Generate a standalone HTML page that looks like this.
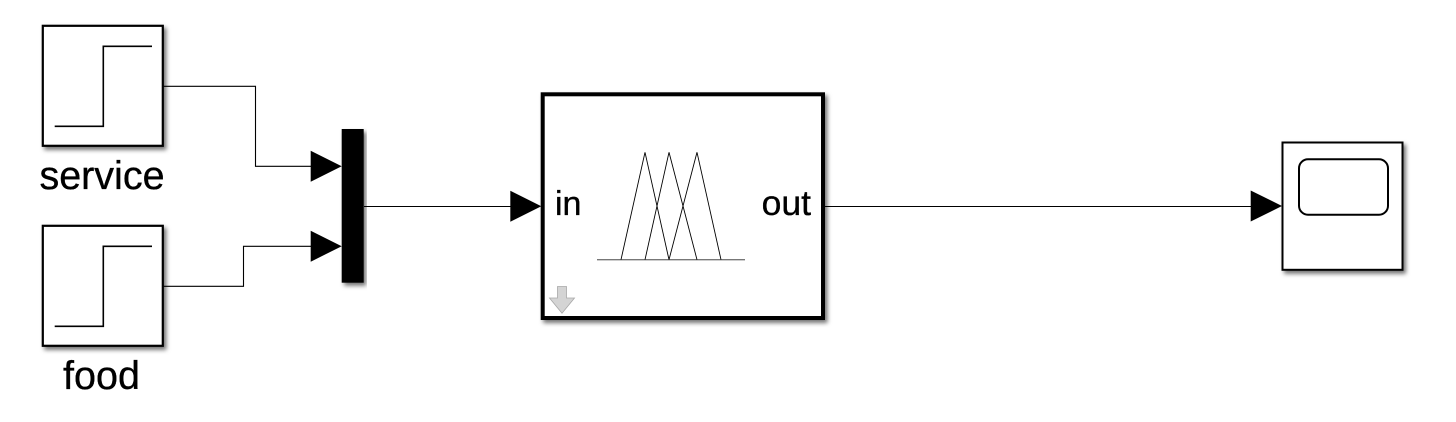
<!DOCTYPE html>
<html>
<head>
<meta charset="utf-8">
<style>
html,body{margin:0;padding:0;background:#fff;width:1456px;height:422px;overflow:hidden}
svg{display:block}
text{font-family:"Liberation Sans",sans-serif;fill:#000;stroke:#000;stroke-width:0.35px}
</style>
</head>
<body>
<svg width="1456" height="422" viewBox="0 0 1456 422" xmlns="http://www.w3.org/2000/svg">
<defs>
<filter id="s" x="-15%" y="-15%" width="130%" height="130%">
<feDropShadow dx="2.5" dy="3" stdDeviation="2" flood-color="#000" flood-opacity="0.55"/>
</filter>
</defs>

<!-- service -->
<rect x="42.8" y="25.8" width="120" height="120" fill="#fff" stroke="#000" stroke-width="2.2" filter="url(#s)"/>
<path d="M54.7 126.3H103.3V46.3H152" fill="none" stroke="#000" stroke-width="1.6"/>
<text x="102" y="189" font-size="39.5" text-anchor="middle">service</text>

<!-- food -->
<rect x="42.8" y="225.8" width="120" height="120" fill="#fff" stroke="#000" stroke-width="2.2" filter="url(#s)"/>
<path d="M54.7 326.3H103.3V246.3H152" fill="none" stroke="#000" stroke-width="1.6"/>
<text x="101.5" y="389" font-size="39.5" text-anchor="middle">food</text>

<!-- wires -->
<path d="M163.5 86.3H255.5V166.3H312" fill="none" stroke="#000" stroke-width="1.1"/>
<path d="M163.5 286.3H243.5V246.3H312" fill="none" stroke="#000" stroke-width="1.1"/>
<path d="M364 206.5H512" fill="none" stroke="#000" stroke-width="1.1"/>
<path d="M825 206.5H1252" fill="none" stroke="#000" stroke-width="1.1"/>

<!-- mux -->
<rect x="341.7" y="129" width="22" height="153.7" fill="#000" filter="url(#s)"/>

<!-- arrowheads -->
<polygon points="310.7,150.7 341.7,166.2 310.7,181.7" fill="#000"/>
<polygon points="310.7,230.7 341.7,246.2 310.7,261.7" fill="#000"/>
<polygon points="510.3,190.8 541.3,206.3 510.3,221.8" fill="#000"/>
<polygon points="1250.7,190.5 1282,206 1250.7,221.5" fill="#000"/>

<!-- fuzzy block -->
<rect x="542.7" y="94.3" width="280.3" height="223.7" fill="#fff" stroke="#000" stroke-width="4" filter="url(#s)"/>
<path d="M597 259.7H745" fill="none" stroke="#777" stroke-width="1.3"/>
<path d="M621 259.7L645 152.3L669 259.7M645 259.7L669 152.3L697 259.7M669 259.7L697 152.3L721 259.7" fill="none" stroke="#000" stroke-width="0.9"/>
<text x="555" y="215" font-size="34">in</text>
<text x="811" y="215" font-size="35.5" text-anchor="end">out</text>
<polygon points="557.5,286.5 566.5,286.5 566.5,298 574.5,298 562,313.3 549.5,298 557.5,298" fill="#d4d4d4" stroke="#a8a8a8" stroke-width="0.8"/>

<!-- scope -->
<rect x="1282.5" y="142.5" width="120" height="127.3" fill="#fff" stroke="#000" stroke-width="2" filter="url(#s)"/>
<rect x="1299" y="159.3" width="89" height="55.4" rx="9" ry="9" fill="#fff" stroke="#000" stroke-width="2"/>
</svg>
</body>
</html>
